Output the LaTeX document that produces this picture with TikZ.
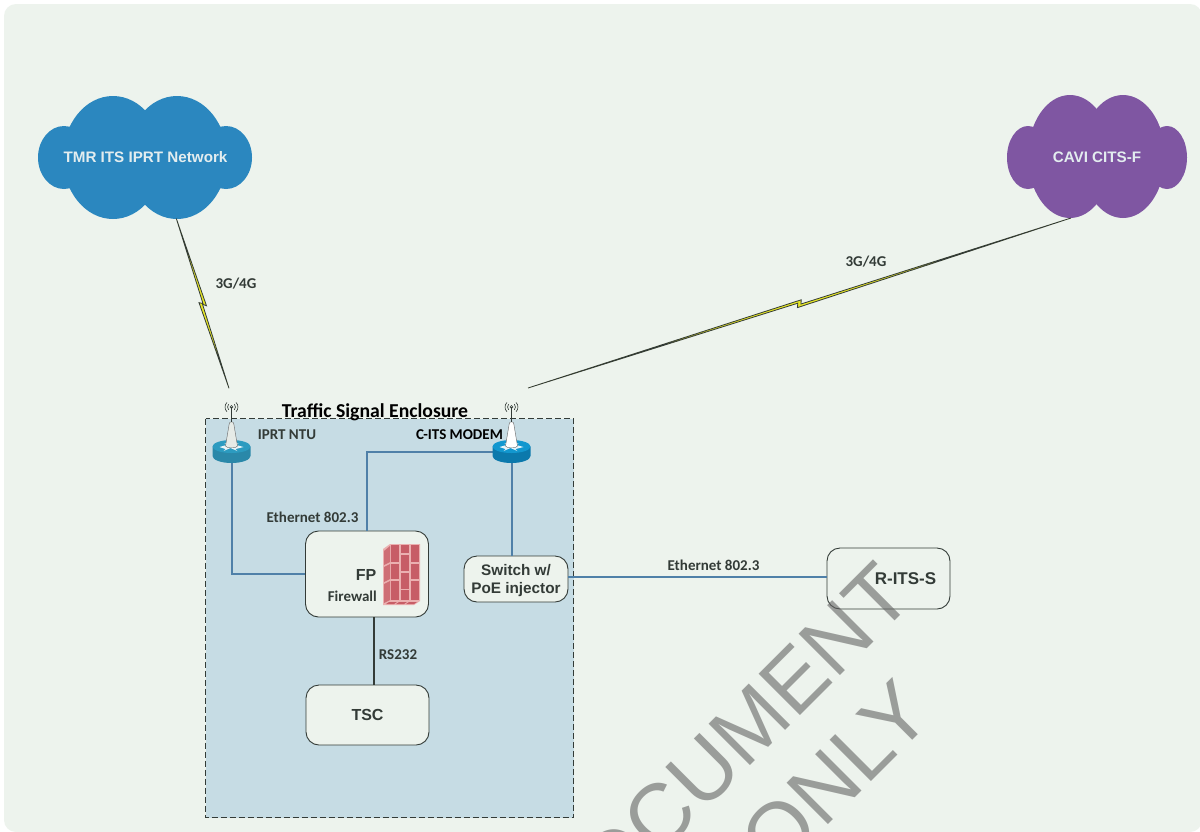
\documentclass[tikz,border=0pt]{standalone}
\usepackage{fontspec}
\setmainfont{Liberation Sans}
\newfontfamily\calfont{Carlito}
\usetikzlibrary{calc}
\definecolor{pagebg}{HTML}{EDF3ED}
\definecolor{encl}{HTML}{C6DCE4}
\definecolor{linkblue}{HTML}{4F80A8}
\definecolor{inktxt}{HTML}{333B37}
\definecolor{cloudblue}{HTML}{2B87BF}
\definecolor{cloudpurple}{HTML}{7F56A2}
\definecolor{cloudtxt}{HTML}{E3EDEF}
\definecolor{brick}{HTML}{C75D66}
\definecolor{mortar}{HTML}{EBB0B0}
\definecolor{boltyellow}{HTML}{E8E826}
\definecolor{wmcol}{HTML}{646464}
\tikzset{
  devbox/.style={draw=inktxt,line width=.9pt,rounded corners=13pt,fill=pagebg,inner sep=0pt},
  eth/.style={draw=linkblue,line width=2.2pt},
  serial/.style={draw=inktxt,line width=2pt},
  bolt/.style={fill=boltyellow,draw=inktxt,line width=.8pt,line join=miter},
  lbl/.style={font=\calfont\bfseries\fontsize{15}{17}\selectfont,text=inktxt,inner sep=0pt},
  lblk/.style={font=\calfont\bfseries\fontsize{15}{17}\selectfont,text=black,inner sep=0pt},
  devtxt/.style={font=\bfseries\fontsize{15.3}{18}\selectfont,text=inktxt,inner sep=0pt,align=center},
  cloudlbl/.style={font=\bfseries\fontsize{15.2}{17}\selectfont,text=cloudtxt,inner sep=0pt},
  wmark/.style={font=\fontsize{85}{85}\selectfont,text=wmcol,text opacity=.6,rotate=45,inner sep=0pt,anchor=base east},
}
\begin{document}
\begin{tikzpicture}[x=1pt,y=-1pt]
\useasboundingbox (0,0) rectangle (1200,831);
\fill[white] (0,0) rectangle (1200,831);
\fill[pagebg,rounded corners=12pt] (4,4) rectangle (1202,832);

% clouds
\fill[cloudblue] (113,157.5) ellipse [x radius=50,y radius=61.5]
  (177,157.5) ellipse [x radius=50,y radius=61.5]
  (64,157.5) ellipse [x radius=26,y radius=31.5]
  (226,157.5) ellipse [x radius=26,y radius=31.5];
\fill[cloudblue] (100,126) rectangle (190,190);
\node[cloudlbl] (iprtnet) at (145.5,157) {TMR ITS IPRT Network};
\fill[cloudpurple] (1070,156.5) ellipse [x radius=42,y radius=61.5]
  (1123,156.5) ellipse [x radius=42,y radius=61.5]
  (1028,157.5) ellipse [x radius=21,y radius=31.5]
  (1167,157.5) ellipse [x radius=20,y radius=31.5];
\fill[cloudpurple] (1050,126) rectangle (1145,190);
\node[cloudlbl] (cavi) at (1097,157) {CAVI CITS-F};

% enclosure
\draw[fill=encl,draw=inktxt,line width=.8pt,dash pattern=on 6pt off 3pt] (205.5,418.5) rectangle (573.5,817.5);
\node[font=\calfont\bfseries\fontsize{19.7}{22}\selectfont,text=black,inner sep=0pt] (title) at (375,412) {Traffic Signal Enclosure};

% boxes
\node[devbox,minimum width=123pt,minimum height=86pt] (fp) at (367,574) {};
\node[devbox,minimum width=104pt,minimum height=46pt] (sw) at (516,579) {};
\node[devbox,minimum width=123pt,minimum height=60pt] (tsc) at (367.5,715) {};
\node[devbox,minimum width=123pt,minimum height=61pt] (rits) at (888.5,578.5) {};

% routers
\coordinate (ntu) at (232,452);
\coordinate (modem) at (512,452);
\coordinate (ethy) at (700,577);
\coordinate (rsx) at (374,650);

% connectors
\draw[eth] (ntu) -- (ntu |- fp.west) -- (fp.west);
\draw[eth] (fp.north) -- (fp.north |- modem) -- (modem);
\draw[eth] (modem) -- (modem |- sw.north);
\draw[eth,line width=1.8pt] (sw.east |- ethy) -- (rits.west |- ethy);
\draw[serial] (rsx |- fp.south) -- (rsx |- tsc.north);

% labels under the antennas
\node[lbl] (ntulbl) at (287,435) {IPRT NTU};
\node[lblk,anchor=west] (modlbl) at (416,435) {C-ITS MODEM};

% router bodies
\foreach \name/\cx/\top/\side/\ant in {ntu/231.5/2C9BC0/2A88A9/E6EBE7, modem/511.5/1297CF/0B79AC/FFFFFF}{
  \definecolor{rtop}{HTML}{\top}
  \definecolor{rside}{HTML}{\side}
  \definecolor{rant}{HTML}{\ant}
  \begin{scope}[shift={(\cx,0)}]
    \fill[rside] (-19,446.5) -- (-19,456) arc[start angle=180,end angle=0,x radius=19,y radius=7] -- (19,446.5) -- cycle;
    \fill[rtop] (0,446.5) ellipse [x radius=19,y radius=6.5];
    \fill[white,opacity=.9] (-12,447) -- (-6,449) -- (-8,451) -- (-1,448) -- (6,451) -- (4,449) -- (12,447) -- (5,445) -- (7,443) -- (0,445.5) -- (-7,443) -- (-5,445) -- cycle;
    \draw[fill=rant,draw=black!60,line width=.4pt] (-6,446) -- (-2.3,424) arc[start angle=180,end angle=360,radius=2.3] -- (6,446) arc[start angle=0,end angle=180,x radius=6,y radius=1.8];
    \draw[inktxt,line width=.6pt] (0,422) -- (0,407);
    \draw[inktxt,line width=.6pt] (0,407) circle[radius=1.5];
    \foreach \rr in {4,6.5}{
      \draw[inktxt,line width=.6pt] (-.7*\rr,407-.7*\rr) arc[start angle=225,end angle=135,radius=\rr];
      \draw[inktxt,line width=.6pt] (.7*\rr,407-.7*\rr) arc[start angle=-45,end angle=45,radius=\rr];
    }
  \end{scope}
}

% firewall
\begin{scope}
  \fill[mortar] (383,549) -- (390,544) -- (420,544) -- (420,601) -- (414,605) -- (383,605) -- cycle;
  \foreach \xa/\xb/\ya/\yb in {
    391/399/545/562, 391/399/563.5/579, 391/399/580.5/600,
    401/409/545/553, 401/409/554.5/571, 401/409/572.5/588.5, 401/409/590/600,
    411/419/545/562, 411/419/563.5/579, 411/419/580.5/600}{
    \fill[brick] (\xa,\ya) rectangle (\xb,\yb);
  }
  \foreach \ya/\yb/\yc/\yd in {546/562/551/565, 564/579/567/582, 581/600/584/603}{
    \fill[brick!80!mortar] (390,\ya) -- (390,\yb) -- (384,\yd) -- (384,\yc) -- cycle;
  }
  \foreach \xa in {386,396,406}{
    \fill[brick] (\xa,604) -- (\xa+8,604) -- (\xa+11,602) -- (\xa+3,602) -- cycle;
  }
\end{scope}

% lightning links
\coordinate (la) at (176.3,218.5);
\coordinate (lb) at (229,388.3);
\coordinate (lp1) at (206.5,305.8);
\coordinate (lq1) at (202.5,304.2);
\coordinate (lp2) at (199,302.6);
\coordinate (lq2) at (203,303.6);
\draw[bolt] (la) -- (lp1) -- (lq1) -- (lb) -- (lp2) -- (lq2) -- cycle;
\coordinate (ra) at (1071,218);
\coordinate (rb) at (528,388);
\coordinate (rp1) at (801.2,299.8);
\coordinate (rq1) at (801,304);
\coordinate (rp2) at (797.4,307.6);
\coordinate (rq2) at (797.8,303.2);
\draw[bolt] (rb) -- (rp1) -- (rq1) -- (ra) -- (rp2) -- (rq2) -- cycle;

% labels
\node[lbl] (g1) at (236,283.5) {3G/4G};
\node[lbl] (g2) at (866,261.5) {3G/4G};
\node[lbl] (e1) at (312.5,517.5) {Ethernet 802.3};
\node[lbl] (e2) at (713.5,565) {Ethernet 802.3};
\node[lbl] (rs) at (398,654.5) {RS232};
\node[devtxt,font=\bfseries\fontsize{16}{18}\selectfont] (fpt) at (366,574.5) {FP};
\node[lbl,anchor=east] (fwt) at (377,596.5) {Firewall};
\node[devtxt] (swt) at (516,581) {Switch w/\\PoE injector};
\node[devtxt,font=\bfseries\fontsize{16}{18}\selectfont] (tsct) at (367.5,715) {TSC};
\node[devtxt,font=\bfseries\fontsize{17}{18}\selectfont] (ritst) at (905.5,579) {R-ITS-S};

% watermark
\begin{scope}
\clip (0,0) rectangle (1200,831);
\node[wmark] (wm1) at (916,600) {DOCUMENT};
\node[wmark] (wm2) at (936,717) {ONLY};
\end{scope}
\end{tikzpicture}
\end{document}
